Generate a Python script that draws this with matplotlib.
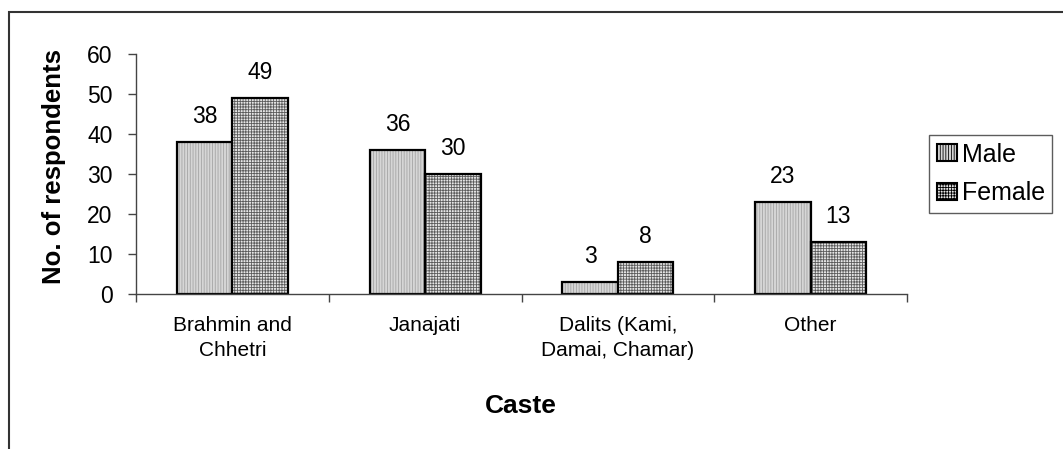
import matplotlib
matplotlib.use("Agg")
import matplotlib.pyplot as plt
from matplotlib.patches import Rectangle, Patch
import numpy as np

plt.rcParams['font.family'] = ['Liberation Sans', 'DejaVu Sans']
plt.rcParams['hatch.linewidth'] = 0.6

categories = ["Brahmin and\nChhetri", "Janajati", "Dalits (Kami,\nDamai, Chamar)", "Other"]
male = [38, 36, 3, 23]
female = [49, 30, 8, 13]
yticks = [0, 10, 20, 30, 40, 50, 60]

W, H = 1063, 449
fig = plt.figure(figsize=(W / 100, H / 100), dpi=100)

# outer chart border (only left and top sides fall inside the image)
fig.patches.append(Rectangle((9 / W, -0.1), 1.2, 1 - 12 / H + 0.1, transform=fig.transFigure,
                             fill=False, edgecolor='#333333', linewidth=1.5))

ax = fig.add_axes([136 / W, 1 - 294 / H, (907 - 136) / W, (294 - 54) / H])

x = np.arange(len(categories))
bw = 0.288

styles = {
    'Male': dict(face='#d6d6d6', hatch='||||||', hcol='#a4a4a4'),
    'Female': dict(face='#e6e6e6', hatch='++++++', hcol='#5c5c5c'),
}

for off, vals, name in [(-bw / 2, male, 'Male'), (bw / 2, female, 'Female')]:
    st = styles[name]
    ax.bar(x + off, vals, bw, color=st['face'], hatch=st['hatch'],
           edgecolor=st['hcol'], linewidth=0)
    ax.bar(x + off, vals, bw, facecolor='none', edgecolor='black', linewidth=1.6)
    for xi, v in zip(x + off, vals):
        ax.annotate(str(v), (xi, v), xytext=(0, 14), textcoords='offset points',
                    ha='center', va='baseline', fontsize=16.5)

ax.set_xlim(-0.5, len(categories) - 0.5)
ax.set_ylim(0, 60)
ax.set_yticks(yticks)
ax.set_xticks(np.arange(len(categories) + 1) - 0.5, minor=False)
ax.set_xticklabels([])
ax.set_xticks(x, minor=True)
ax.set_xticklabels(categories, minor=True, fontsize=15, linespacing=1.4)
ax.tick_params(axis='x', which='minor', length=0, pad=16)
ax.tick_params(axis='x', which='major', length=6, width=1, color='#444444', direction='out')
ax.tick_params(axis='y', length=6, width=1, color='#444444', labelsize=16.5, pad=11)

for s in ['top', 'right']:
    ax.spines[s].set_visible(False)
for s in ['left', 'bottom']:
    ax.spines[s].set_color('#444444')
    ax.spines[s].set_linewidth(1)

fig.text(54 / W, 1 - 166 / H, "No. of respondents", rotation=90, ha='center', va='center',
         fontsize=18.5, fontweight='bold')
fig.text(521 / W, 1 - 406 / H, "Caste", ha='center', va='center',
         fontsize=19, fontweight='bold')

handles = [Patch(facecolor=styles[n]['face'], hatch=styles[n]['hatch'],
                 edgecolor='black', linewidth=1.5, label=n) for n in ['Male', 'Female']]
leg = fig.legend(handles=handles, loc='upper left',
                 bbox_to_anchor=(929 / W, 1 - 135 / H), frameon=True, fontsize=18,
                 handlelength=0.8, handleheight=0.65, handletextpad=0.2,
                 borderpad=0.3, labelspacing=0.6, fancybox=False, borderaxespad=0)
leg.get_frame().set_edgecolor('#333333')
leg.get_frame().set_linewidth(1)

fig.savefig("out.png", dpi=100)
